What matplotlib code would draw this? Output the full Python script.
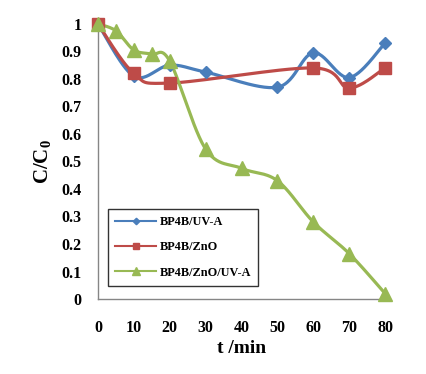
import numpy as np
import matplotlib
matplotlib.use("Agg")
import matplotlib.pyplot as plt

# Dados (C/C0 em função do tempo)
t_uv = [0, 10, 20, 30, 50, 60, 70, 80]
c_uv = [1.0, 0.81, 0.85, 0.825, 0.77, 0.895, 0.805, 0.93]

t_zno = [0, 10, 20, 60, 70, 80]
c_zno = [1.0, 0.82, 0.785, 0.84, 0.767, 0.84]

t_zno_uv = [0, 5, 10, 15, 20, 30, 40, 50, 60, 70, 80]
c_zno_uv = [1.0, 0.975, 0.905, 0.89, 0.865, 0.545, 0.475, 0.43, 0.28, 0.165, 0.02]

x_ticks = [0, 10, 20, 30, 40, 50, 60, 70, 80]
y_ticks = [0, 0.1, 0.2, 0.3, 0.4, 0.5, 0.6, 0.7, 0.8, 0.9, 1.0]
y_labels = ["0", "0.1", "0.2", "0.3", "0.4", "0.5", "0.6", "0.7", "0.8", "0.9", "1"]


def suavizar(x, y, n=30, k=6):
    """Curva suave estilo Excel (Bezier/Catmull-Rom) passando pelos pontos."""
    x = np.asarray(x, float)
    y = np.asarray(y, float)
    px = np.concatenate([[x[0]], x, [x[-1]]])
    py = np.concatenate([[y[0]], y, [y[-1]]])
    xs, ys = [], []
    s = np.linspace(0, 1, n)
    for i in range(1, len(px) - 2):
        p0x, p1x, p2x, p3x = px[i - 1:i + 3]
        p0y, p1y, p2y, p3y = py[i - 1:i + 3]
        # pontos de controle de Bezier
        c1x, c1y = p1x + (p2x - p0x) / k, p1y + (p2y - p0y) / k
        c2x, c2y = p2x - (p3x - p1x) / k, p2y - (p3y - p1y) / k
        bx = (1 - s) ** 3 * p1x + 3 * (1 - s) ** 2 * s * c1x + 3 * (1 - s) * s ** 2 * c2x + s ** 3 * p2x
        by = (1 - s) ** 3 * p1y + 3 * (1 - s) ** 2 * s * c1y + 3 * (1 - s) * s ** 2 * c2y + s ** 3 * p2y
        xs.append(bx)
        ys.append(by)
    return np.concatenate(xs), np.concatenate(ys)


plt.rcParams["font.family"] = ["Liberation Serif", "DejaVu Serif"]
plt.rcParams["mathtext.fontset"] = "custom"
plt.rcParams["mathtext.rm"] = "Liberation Serif"
plt.rcParams["mathtext.bf"] = "Liberation Serif:bold"

fig = plt.figure(figsize=(4.26, 3.74), dpi=100)
ax = fig.add_axes([0.230, 0.2005, 0.674, 0.7355])

series = [
    (t_uv, c_uv, "#4A7EBB", "D", 6, "BP4B/UV-A"),
    (t_zno, c_zno, "#BE4B48", "s", 9, "BP4B/ZnO"),
    (t_zno_uv, c_zno_uv, "#98B954", "^", 10, "BP4B/ZnO/UV-A"),
]
for t, c, cor, mk, ms, nome in series:
    xs, ys = suavizar(t, c)
    ax.plot(xs, ys, color=cor, lw=2.3, clip_on=False, zorder=3)
    ax.plot(t, c, ls="none", marker=mk, ms=ms, color=cor, clip_on=False, zorder=4)
    ax.plot([], [], color=cor, lw=1.5, marker=mk, ms=ms * 0.55, label=nome)

ax.set_xlim(0, 80)
ax.set_ylim(0, 1)
ax.set_xticks(x_ticks)
ax.set_yticks(y_ticks)
ax.set_yticklabels(y_labels)
ax.tick_params(length=0, labelsize=11.5)
ax.tick_params(axis="y", pad=12)
ax.tick_params(axis="x", pad=15)
for lab in ax.get_xticklabels() + ax.get_yticklabels():
    lab.set_fontweight("bold")

for lado in ["top", "right"]:
    ax.spines[lado].set_visible(False)
for lado in ["left", "bottom"]:
    ax.spines[lado].set_color("#868686")
    ax.spines[lado].set_linewidth(1.0)

ax.set_xlabel("t /min", fontsize=14, fontweight="bold", labelpad=3)
ax.set_ylabel(r"$\mathbf{C/C_0}$", fontsize=15, labelpad=6)

leg = ax.legend(loc="lower left", bbox_to_anchor=(0.035, 0.047), frameon=True,
                fancybox=False, edgecolor="black", prop={"weight": "bold", "size": 8.8},
                labelspacing=1.1, handlelength=3.3, borderpad=0.6, handletextpad=0.3,
                borderaxespad=0)
leg.get_frame().set_linewidth(1.0)

fig.savefig("out.png", dpi=100)
